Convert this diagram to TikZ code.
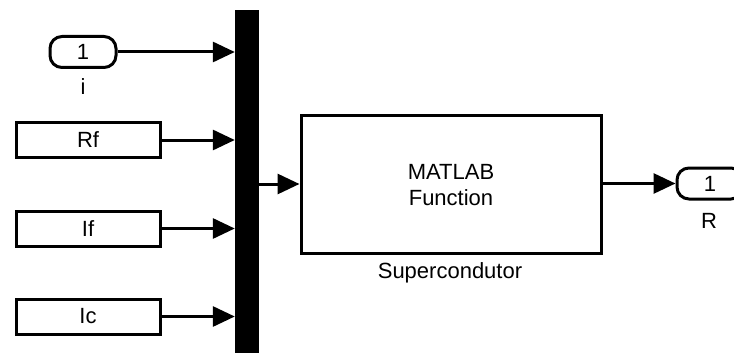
\documentclass[tikz,border=0pt]{standalone}
\usepackage{fontspec}
\setmainfont{Liberation Sans}
\usetikzlibrary{arrows.meta}
\begin{document}
\begin{tikzpicture}[x=1pt,y=-1pt,
  font=\fontsize{22}{26}\selectfont,
  blk/.style={draw=black,line width=3pt,fill=white,inner sep=0pt,minimum width=144pt,minimum height=35pt},
  port/.style={draw=black,line width=3pt,fill=white,inner sep=0pt,rounded corners=12pt,minimum width=66pt,minimum height=31pt},
  sig/.style={line width=3pt,-{Triangle[length=22pt,width=20pt]}},
  lbl/.style={inner sep=0pt}
]
\useasboundingbox (0,0) rectangle (734,353);
\clip (0,0) rectangle (734,353);
\fill[white] (0,0) rectangle (734,353);
% bus bar
\node[fill=black,inner sep=0pt,minimum width=24pt,minimum height=350pt] (bar) at (247,185) {};
% inputs
\node[port] (in1) at (83,52) {1};
\node[lbl] (il) at (83,87) {i};
\node[blk] (rf) at (88,140) {Rf};
\node[blk] (if) at (88,228.5) {If};
\node[blk] (ic) at (88,316.5) {Ic};
% function block
\node[draw=black,line width=3pt,fill=white,inner sep=0pt,minimum width=300pt,minimum height=138pt] (mf) at (451,184) {};
\node[lbl] (t1) at (451,172) {MATLAB};
\node[lbl] (t2) at (451,198) {Function};
\node[lbl] (sc) at (450,273) {Supercondutor};
% output port
\node[port] (out) at (710,183.5) {1};
\node[lbl] (rl) at (709,221) {R};
% connectors
\draw[sig] (in1.east) -- (in1.east -| bar.west);
\draw[sig] (rf.east) -- (rf.east -| bar.west);
\draw[sig] (if.east) -- (if.east -| bar.west);
\draw[sig] (ic.east) -- (ic.east -| bar.west);
\draw[sig] (bar.east |- mf.west) -- (mf.west);
\draw[sig] (mf.east |- out.west) -- (out.west);
\end{tikzpicture}
\end{document}
